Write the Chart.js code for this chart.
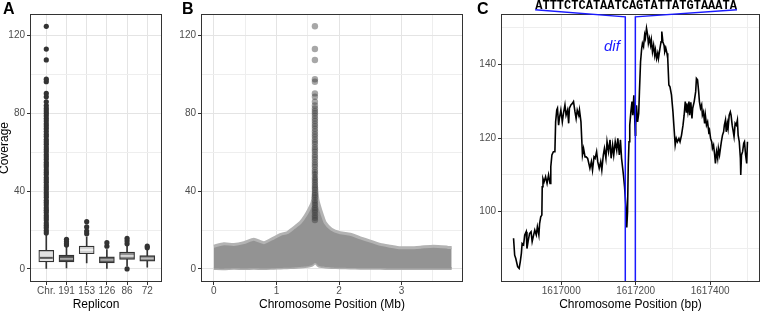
<!DOCTYPE html>
<html>
<head>
<meta charset="utf-8">
<script src="https://cdn.jsdelivr.net/npm/chart.js@4.4.1/dist/chart.umd.min.js"></script>
<style>
  body { margin: 0; background: #fff; }
  #wrap { position: relative; width: 760px; height: 314px; overflow: hidden; }
  canvas { position: absolute; top: 0; }
  .lab { position: absolute; top: 1px; font: bold 16px "Liberation Sans", Arial, sans-serif; line-height: 16px; color: #000; }
</style>
</head>
<body>
<div id="wrap">
  <canvas id="chartA" width="166" height="314" style="left:0"></canvas>
  <canvas id="chartB" width="300" height="314" style="left:166px"></canvas>
  <canvas id="chartC" width="294" height="314" style="left:466px"></canvas>
  <div class="lab" style="left:3px">A</div>
  <div class="lab" style="left:182px">B</div>
  <div class="lab" style="left:477px">C</div>
</div>
<script>
// Panel A: coverage per replicon (box plots)
const replicons = ['Chr.', '191', '153', '126', '86', '72'];
const boxLow = [0, 0.5, 3.1, 0, 1.4, 0.9];
const boxQ1 = [3.6, 3.6, 7.8, 3.1, 4.9, 4.0];
const boxMedian = [5.7, 5.2, 9.8, 4.7, 6.7, 5.4];
const boxQ3 = [9.5, 7.1, 11.7, 6.2, 8.6, 6.9];
const boxHigh = [17.5, 11.5, 16.5, 10.0, 11.7, 9.6];
const chrOutliers = [18.5, 19.7, 21.2, 22.4, 23.6, 25.1, 26.3, 27.5, 29.0, 30.2, 31.4, 32.9, 34.1, 35.3,
  36.8, 38.0, 39.2, 40.7, 41.9, 43.1, 44.6, 45.8, 47.0, 48.5, 49.7, 50.9, 52.4, 53.6, 54.8, 56.3,
  57.5, 58.7, 60.2, 61.4, 62.6, 64.1, 65.3, 66.5, 68.0, 69.2, 70.6, 72.1, 73.4, 74.6, 76.0, 77.3,
  78.7, 80.0, 81.2, 82.5, 84.0, 85.9, 88.5, 90.2, 96.2, 97.5, 107.4, 113.0, 124.7];
const replicOutliers = [
  chrOutliers,
  [12.3, 12.9, 14.0, 15.2],
  [18.1, 19.5, 21.6, 24.3],
  [11.7, 13.5],
  [0, 12.9, 14.3, 15.7],
  [10.9, 11.7]
];
const coverageTicks = [0, 20, 40, 60, 80, 100, 120];
const coverageLabeled = [0, 40, 80, 120];

// Panel B: coverage along the chromosome (band of binned points)
const bandMb = [0.00, 0.16, 0.32, 0.48, 0.64, 0.80, 0.96, 1.07, 1.17, 1.28, 1.38, 1.46, 1.52, 1.57, 1.59,
  1.605, 1.615, 1.63, 1.66, 1.68, 1.73, 1.78, 1.88, 2.02, 2.18, 2.34, 2.50, 2.66, 2.82, 2.98, 3.14, 3.30,
  3.51, 3.73, 3.80];
const bandUpper = [11.7, 12.9, 12.6, 13.5, 15.2, 13.5, 16.0, 17.8, 18.6, 21.2, 23.8, 27.3, 30.7, 34.2, 38,
  46, 50, 46, 36, 33.3, 28.1, 23.8, 20.4, 18.6, 17.8, 16.0, 14.3, 12.6, 11.7, 10.9, 10.9, 11.2,
  11.7, 11.2, 10.9];
const bandLower = [0.2, 0.1, 0.3, 0.2, 0.3, 0.2, 0.4, 0.5, 0.6, 0.8, 1.0, 1.2, 1.5, 2.0, 2.5,
  3.0, 3.0, 3.0, 2.0, 1.5, 1.2, 1.0, 0.8, 0.6, 0.5, 0.4, 0.3, 0.3, 0.2, 0.2, 0.2, 0.2,
  0.2, 0.2, 0.2];
const peakMb = 1.615;
const mbTicks = [0, 0.5, 1, 1.5, 2, 2.5, 3, 3.5];
const mbLabeled = [0, 1, 2, 3];

// Panel C: per-base coverage around dif
const cBp = [1616872, 1616875, 1616878, 1616883, 1616887, 1616890, 1616893, 1616895, 1616899, 1616902,
  1616906, 1616908, 1616911, 1616915, 1616919, 1616922, 1616926, 1616929, 1616933, 1616936, 1616940,
  1616942, 1616945, 1616948, 1616949, 1616951, 1616954, 1616958, 1616962, 1616966, 1616970, 1616972,
  1616975, 1616979, 1616983, 1616985, 1616988, 1616990, 1616993, 1616995, 1616999, 1617003, 1617006,
  1617010, 1617013, 1617017, 1617020, 1617022, 1617026, 1617030, 1617033, 1617037, 1617040, 1617043,
  1617047, 1617049, 1617053, 1617055, 1617057, 1617060, 1617064, 1617067, 1617071, 1617077, 1617081,
  1617084, 1617088, 1617091, 1617095, 1617098, 1617102, 1617106, 1617109, 1617113, 1617116, 1617120,
  1617123, 1617127, 1617131, 1617134, 1617138, 1617141, 1617145, 1617149, 1617152, 1617156, 1617159,
  1617162, 1617165, 1617167, 1617170, 1617174, 1617176, 1617178, 1617180, 1617182, 1617184, 1617187,
  1617190, 1617192, 1617195, 1617197, 1617199, 1617200, 1617202, 1617205, 1617208, 1617210, 1617213,
  1617216, 1617218, 1617221, 1617224, 1617226, 1617229, 1617232, 1617234, 1617237, 1617240, 1617242,
  1617245, 1617248, 1617251, 1617253, 1617256, 1617259, 1617261, 1617265, 1617268, 1617270, 1617273,
  1617276, 1617278, 1617281, 1617284, 1617286, 1617289, 1617292, 1617296, 1617300, 1617303, 1617306,
  1617309, 1617312, 1617316, 1617319, 1617323, 1617327, 1617330, 1617333, 1617336, 1617337, 1617340,
  1617343, 1617345, 1617348, 1617351, 1617353, 1617357, 1617361, 1617363, 1617366, 1617369, 1617371,
  1617374, 1617377, 1617379, 1617382, 1617385, 1617387, 1617390, 1617393, 1617396, 1617398, 1617401,
  1617404, 1617406, 1617409, 1617412, 1617414, 1617417, 1617420, 1617422, 1617425, 1617428, 1617430,
  1617433, 1617436, 1617438, 1617441, 1617443, 1617446, 1617448, 1617451, 1617454, 1617456, 1617459,
  1617462, 1617464, 1617467, 1617470, 1617473, 1617475, 1617478, 1617481, 1617482, 1617484, 1617487,
  1617490, 1617492, 1617495, 1617498, 1617500];
const cCoverage = [92.8, 88.2, 87.3, 85.1, 84.6, 86.4, 88.7, 91.4, 91.0, 93.7,
  94.6, 90.0, 91.9, 94.1, 94.6, 91.9, 93.7, 95.0, 93.7, 95.9, 93.7,
  96.8, 98.6, 99.1, 106.8, 109.0, 108.1, 109.5, 107.7, 110.0, 107.7, 112.2,
  115.4, 116.3, 116.3, 124.4, 127.6, 128.1, 123.5, 125.3, 127.6, 124.4, 126.7,
  129.0, 126.2, 127.6, 124.0, 128.1, 129.0, 129.4, 129.9, 127.1, 125.3, 127.6,
  126.2, 127.6, 124.4, 119.9, 115.4, 117.2, 114.9, 114.9, 114.5, 111.8, 113.6,
  111.3, 114.9, 114.5, 116.3, 113.6, 111.8, 113.6, 111.3, 115.4, 117.2, 114.5,
  119.0, 116.3, 119.5, 114.5, 118.1, 115.4, 119.0, 116.7, 119.9, 115.4, 119.5,
  114.5, 111.8, 110.0, 106.8, 100.9, 95.7, 99.9, 112.7, 119.0, 123.5, 127.1,
  129.9, 126.2, 131.6, 126.2, 120.8, 123.5, 128.9, 124.4, 126.7, 132.6, 140.7,
  144.3, 145.7, 144.8, 148.0, 147.1, 149.8, 148.0, 145.7, 147.1, 145.2, 146.6,
  143.4, 145.2, 142.5, 143.9, 141.6, 143.0, 141.6, 144.3, 146.1, 148.9, 146.1,
  145.2, 143.4, 144.3, 143.0, 141.6, 134.4, 133.9, 131.7, 127.1, 122.6, 118.1,
  119.9, 119.0, 119.9, 119.0, 120.8, 123.5, 126.2, 129.9, 127.1, 129.4, 127.1,
  129.9, 126.2, 129.7, 125.3, 128.1, 129.9, 132.6, 136.2, 135.8, 132.6, 129.9,
  128.1, 129.0, 126.2, 127.1, 124.0, 126.2, 123.5, 124.4, 121.7, 122.2, 119.9,
  119.0, 117.2, 118.1, 115.4, 113.1, 116.3, 114.5, 117.2, 115.4, 117.6, 119.0,
  120.8, 121.7, 123.5, 124.9, 121.7, 124.0, 122.6, 126.2, 127.1, 126.2, 123.5,
  121.7, 120.4, 124.0, 123.5, 124.9, 120.8, 119.0, 114.5, 110.0, 115.4, 116.3,
  118.6, 119.0, 115.4, 113.1, 119.0];
const difStart = 1617172;
const difEnd = 1617199;
const difSequence = 'ATTTCTCATAATCAGTATTATGTAAATA';
const seqLeft = 1616930;
const seqRight = 1617472;
const bracketCorner = 152.9;
const bracketEnd = 154.8;
const bpTicks = [1616900, 1617000, 1617100, 1617200, 1617300, 1617400, 1617500];
const bpLabeled = [1617000, 1617200, 1617400];
const cCovTicks = [90, 100, 110, 120, 130, 140, 150];
const cCovLabeled = [100, 120, 140];
const cYMin = 81.2;
const cYMax = 153.4;

const FONT = '"Liberation Sans", Arial, sans-serif';
const boxFills = ['#e2e2e2', '#4a4a4a', '#d0d0d0', '#5c5c5c', '#8a8a8a', '#6a6a6a'];
const medianColors = ['#555555', '#a8a8a8', '#f0f0f0', '#a8a8a8', '#d8d8d8', '#bcbcbc'];

// Draw the dark panel frame like ggplot's theme_bw
const panelBorder = {
  id: 'panelBorder',
  beforeDatasetsDraw(chart) {
    const { ctx, chartArea: a } = chart;
    ctx.save();
    ctx.strokeStyle = '#333333';
    ctx.lineWidth = 1;
    ctx.strokeRect(Math.round(a.left) - 0.5, Math.round(a.top) - 0.5,
      Math.round(a.right - a.left) + 1, Math.round(a.bottom - a.top) + 1);
    ctx.restore();
  }
};

// Shared axis builder: fixed ticks, labels only on major ones
function makeAxis(o) {
  const isMajor = c => c.tick && o.labeled.includes(c.tick.value);
  return {
    type: 'linear',
    position: o.position,
    min: o.min,
    max: o.max,
    offset: false,
    afterBuildTicks: s => { s.ticks = o.ticks.map(v => ({ value: v })); },
    afterFit: s => {
      if (o.position === 'left') s.width = o.size;
      else s.height = o.size;
    },
    grid: {
      offset: false,
      color: c => isMajor(c) ? '#e4e4e4' : '#eeeeee',
      lineWidth: 1,
      tickLength: 4,
      tickWidth: 1,
      tickColor: c => isMajor(c) ? '#333333' : 'rgba(0,0,0,0)'
    },
    border: { display: false },
    ticks: {
      autoSkip: false,
      maxRotation: 0,
      padding: o.position === 'left' ? 2 : 0,
      color: '#4d4d4d',
      font: { family: FONT, size: 10 },
      callback: v => o.labeled.includes(v) ? o.fmt(v) : ''
    },
    title: o.title ? {
      display: true,
      text: o.title,
      color: '#000000',
      font: { family: FONT, size: 12, lineHeight: o.position === 'left' ? 0.75 : 1.2 },
      padding: { top: 0, bottom: 2 }
    } : { display: false }
  };
}

function baseOptions(pad) {
  return {
    responsive: false,
    animation: false,
    devicePixelRatio: 1,
    events: [],
    layout: { autoPadding: false, padding: { top: 15, right: pad, bottom: 0, left: 0 } },
    plugins: { legend: { display: false }, tooltip: { enabled: false } }
  };
}

// ----- Panel A -----
const whiskerData = replicons.map((r, i) => ({ x: i + 1, y: [boxLow[i], boxHigh[i]] }));
const boxData = replicons.map((r, i) => ({ x: i + 1, y: [boxQ1[i], boxQ3[i]] }));
const medianData = replicons.map((r, i) => ({ x: i + 1, y: boxMedian[i] }));
const outlierData = replicOutliers.flatMap((vals, i) => vals.map(v => ({ x: i + 1, y: v })));

new Chart(document.getElementById('chartA'), {
  type: 'bar',
  data: {
    datasets: [
      { type: 'scatter', data: medianData, pointStyle: 'line', pointRadius: 6.5,
        borderWidth: 2, borderColor: medianColors },
      { type: 'scatter', data: outlierData, pointRadius: 2.6, backgroundColor: '#333333', borderWidth: 0 },
      { data: boxData, backgroundColor: boxFills, borderColor: '#333333', borderWidth: 1.2,
        borderSkipped: false, barThickness: 15, grouped: false },
      { data: whiskerData, backgroundColor: '#333333', borderWidth: 0, barThickness: 1, grouped: false }
    ]
  },
  options: {
    ...baseOptions(5),
    scales: {
      x: makeAxis({ position: 'bottom', min: 0.243, max: 6.68, ticks: [1, 2, 3, 4, 5, 6],
        labeled: [1, 2, 3, 4, 5, 6], fmt: v => replicons[v - 1], size: 33, title: 'Replicon' }),
      y: makeAxis({ position: 'left', min: -6.2, max: 130.5, ticks: coverageTicks,
        labeled: coverageLabeled, fmt: v => String(v), size: 31, title: 'Coverage' })
    }
  },
  plugins: [panelBorder]
});

// ----- Panel B -----
const upperData = bandMb.map((x, i) => ({ x, y: bandUpper[i] }));
const lowerData = bandMb.map((x, i) => ({ x, y: bandLower[i] }));
const peakData = chrOutliers.filter(v => v > 25).map(v => ({ x: peakMb, y: v }));

new Chart(document.getElementById('chartB'), {
  type: 'scatter',
  data: {
    datasets: [
      { data: peakData, pointRadius: 3.2, backgroundColor: 'rgba(60,60,60,0.45)', borderWidth: 0 },
      { type: 'line', data: upperData, fill: '+1', backgroundColor: '#939393', borderColor: '#b3b3b3',
        borderWidth: 3, pointRadius: 0, tension: 0.2 },
      { type: 'line', data: lowerData, borderColor: '#adadad', borderWidth: 3, pointRadius: 0,
        fill: false, tension: 0.2 }
    ]
  },
  options: {
    ...baseOptions(4),
    scales: {
      x: makeAxis({ position: 'bottom', min: -0.189, max: 3.965, ticks: mbTicks, labeled: mbLabeled,
        fmt: v => String(v), size: 33, title: 'Chromosome Position (Mb)' }),
      y: makeAxis({ position: 'left', min: -6.2, max: 130.5, ticks: coverageTicks,
        labeled: coverageLabeled, fmt: v => String(v), size: 36 })
    }
  },
  plugins: [panelBorder]
});

// ----- Panel C -----
const difLabel = {
  id: 'difLabel',
  afterDraw(chart) {
    const { ctx, scales: { x, y } } = chart;
    ctx.save();
    ctx.fillStyle = '#1a1aff';
    ctx.font = 'italic 15px ' + FONT;
    ctx.textAlign = 'center';
    ctx.textBaseline = 'middle';
    ctx.fillText('dif', x.getPixelForValue(1617136), y.getPixelForValue(144.8));
    ctx.fillStyle = '#000000';
    ctx.font = 'bold 12px "Liberation Mono", "Courier New", monospace';
    ctx.textBaseline = 'alphabetic';
    ctx.fillText(difSequence, x.getPixelForValue((seqLeft + seqRight) / 2), y.getPixelForValue(bracketEnd) - 1);
    ctx.restore();
  }
};

const coverageData = cBp.map((x, i) => ({ x, y: cCoverage[i] }));
const bracketLeft = [{ x: difStart, y: cYMin }, { x: difStart, y: bracketCorner }, { x: seqLeft, y: bracketEnd }];
const bracketRight = [{ x: difEnd, y: cYMin }, { x: difEnd, y: bracketCorner }, { x: seqRight, y: bracketEnd }];

new Chart(document.getElementById('chartC'), {
  type: 'line',
  data: {
    datasets: [
      { data: bracketLeft, borderColor: '#1a1aff', borderWidth: 1.5, pointRadius: 0, clip: false, tension: 0 },
      { data: bracketRight, borderColor: '#1a1aff', borderWidth: 1.5, pointRadius: 0, clip: false, tension: 0 },
      { data: coverageData, borderColor: '#000000', borderWidth: 1.6, pointRadius: 0, tension: 0 }
    ]
  },
  options: {
    ...baseOptions(1),
    scales: {
      x: makeAxis({ position: 'bottom', min: 1616841, max: 1617531, ticks: bpTicks, labeled: bpLabeled,
        fmt: v => String(v), size: 33, title: 'Chromosome Position (bp)' }),
      y: makeAxis({ position: 'left', min: cYMin, max: cYMax, ticks: cCovTicks, labeled: cCovLabeled,
        fmt: v => String(v), size: 36 })
    }
  },
  plugins: [panelBorder, difLabel]
});
</script>
</body>
</html>
